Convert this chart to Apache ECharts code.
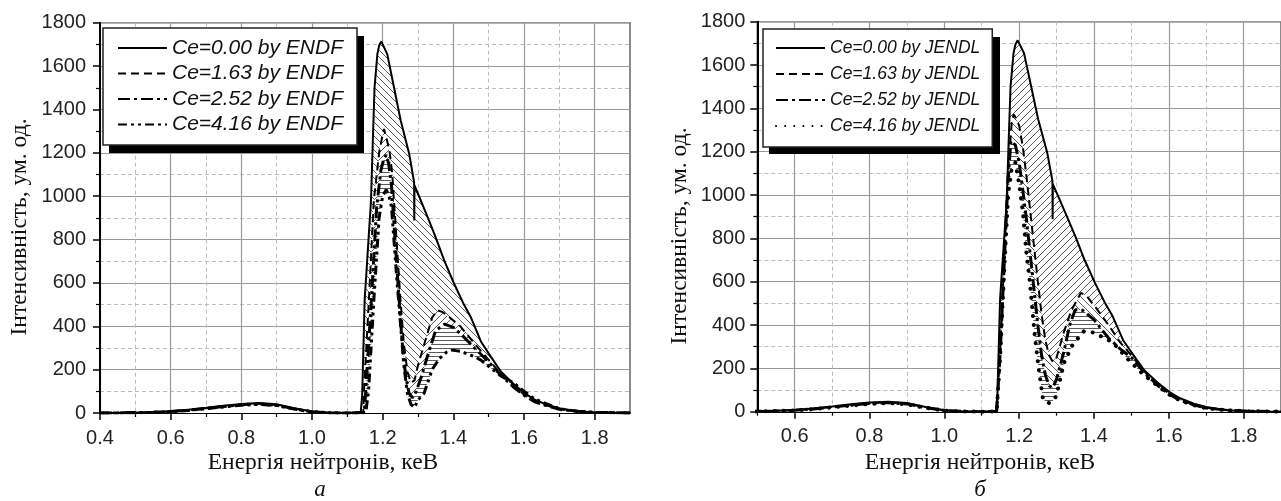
<!DOCTYPE html>
<html><head><meta charset="utf-8">
<script src="https://cdn.jsdelivr.net/npm/echarts@6/dist/echarts.min.js"></script>
<style>html,body{margin:0;padding:0;background:#fff}#c{width:1281px;height:501px}</style>
</head><body><div id="c"></div>
<script>
// ---------- DATA ----------
const lowE = [0.40,0.45,0.50,0.55,0.60,0.65,0.70,0.75,0.80,0.85,0.90,0.95,1.00,1.05,1.10];

// Ce = 0.00 (same reference curve in both panels)
const ce000_E = lowE.concat([1.13,1.138,1.142,1.149,1.158,1.167,1.172,1.177,1.185,1.19,1.196,1.2,1.213,1.232,1.251,1.275,1.289,1.2895,1.290,1.308,1.327,1.35,1.375,1.402,1.43,1.45,1.478,1.506,1.535,1.57,1.601,1.63,1.667,1.7,1.733,1.77,1.8,1.85,1.9]);
const ce000_V = [0,0.5,2,4,8,15,24,34,42,46,40,22,7,1,0].concat([2,5,80,520,750,980,1250,1500,1655,1695,1714,1705,1655,1502,1349,1196,1065,888,1050,980,904,810,700,597,500,440,330,260,190,135,92,62,37,22,12,6,3,1,0]);

// ENDF panel (a)
const endf163_E = lowE.concat([1.145,1.147,1.161,1.175,1.19,1.197,1.204,1.208,1.212,1.22,1.227,1.24,1.25,1.26,1.27,1.28,1.29,1.3,1.32,1.34,1.355,1.37,1.39,1.42,1.46,1.5,1.535,1.57,1.6,1.63,1.667,1.7,1.75,1.8,1.9]);
const endf163_V = [0,0.5,2,4,7,13,22,31,39,43,37,20,6,1,0].concat([2,98,520,980,1200,1260,1310,1280,1260,1200,1105,780,530,320,190,140,150,220,330,440,474,465,440,400,320,245,180,125,85,55,33,18,8,3,0]);
const endf252_E = lowE.concat([1.148,1.152,1.168,1.183,1.195,1.203,1.21,1.217,1.225,1.235,1.245,1.255,1.265,1.275,1.285,1.295,1.31,1.33,1.35,1.375,1.4,1.43,1.46,1.5,1.535,1.57,1.6,1.63,1.667,1.7,1.75,1.8,1.9]);
const endf252_V = [0,0.5,2,3,7,13,21,30,38,42,36,19,6,1,0].concat([2,98,520,950,1120,1170,1190,1150,1050,800,560,330,170,90,70,100,170,280,380,410,395,350,300,235,175,120,82,52,32,17,8,3,0]);
const endf416_E = lowE.concat([1.152,1.16,1.175,1.19,1.2,1.21,1.218,1.225,1.24,1.25,1.26,1.27,1.28,1.29,1.3,1.317,1.34,1.36,1.38,1.397,1.42,1.46,1.478,1.5,1.535,1.572,1.6,1.63,1.668,1.7,1.75,1.8,1.9]);
const endf416_V = [0,0.5,1,3,6,12,20,28,36,40,34,18,5,1,0].concat([2,98,520,900,1000,1030,1000,950,620,420,220,90,40,25,60,90,200,250,280,290,285,260,244,215,170,138,100,65,40,20,8,3,0]);

// JENDL panel (б)
const jendl163_E = lowE.concat([1.14,1.15,1.16,1.17,1.18,1.185,1.19,1.2,1.21,1.22,1.23,1.24,1.25,1.26,1.27,1.28,1.29,1.3,1.32,1.34,1.365,1.38,1.405,1.439,1.47,1.5,1.535,1.57,1.6,1.63,1.667,1.7,1.75,1.8,1.9]);
const jendl163_V = [0,0.5,2,4,7,13,22,31,39,43,37,20,6,1,0].concat([2,300,700,1100,1330,1372,1360,1320,1220,1080,920,760,600,450,330,260,230,250,370,470,548,535,480,400,320,260,185,125,85,55,33,18,8,3,0]);
const jendl252_E = lowE.concat([1.14,1.15,1.16,1.17,1.178,1.19,1.2,1.21,1.22,1.23,1.24,1.25,1.26,1.27,1.28,1.29,1.3,1.32,1.335,1.35,1.37,1.4,1.439,1.47,1.5,1.535,1.57,1.6,1.63,1.667,1.7,1.75,1.8,1.9]);
const jendl252_V = [0,0.5,2,3,7,13,21,30,38,42,36,19,6,1,0].concat([2,290,680,1060,1250,1230,1150,1020,880,720,560,400,260,170,120,110,150,280,400,471,468,425,340,290,250,180,122,82,52,32,17,8,3,0]);
const jendl416_E = lowE.concat([1.14,1.15,1.16,1.171,1.18,1.19,1.2,1.21,1.22,1.228,1.241,1.252,1.264,1.28,1.29,1.299,1.32,1.343,1.373,1.4,1.45,1.492,1.528,1.57,1.6,1.63,1.667,1.7,1.75,1.8,1.9]);
const jendl416_V = [0,0.5,1,3,6,12,20,28,36,40,34,18,5,1,0].concat([2,280,650,1010,1120,1150,1050,920,720,609,364,200,55,40,50,71,226,309,371,365,320,240,178,120,80,52,30,16,7,3,0]);

const namesA = ['Ce=0.00 by ENDF','Ce=1.63 by ENDF','Ce=2.52 by ENDF','Ce=4.16 by ENDF'];
const namesB = ['Ce=0.00 by JENDL','Ce=1.63 by JENDL','Ce=2.52 by JENDL','Ce=4.16 by JENDL'];
const xMajorA = [0.4,0.6,0.8,1.0,1.2,1.4,1.6,1.8];
const xMinorA = [0.5,0.7,0.9,1.1,1.3,1.5,1.7];
const xMajorB = [0.6,0.8,1.0,1.2,1.4,1.6,1.8];
const xMinorB = [0.5,0.7,0.9,1.1,1.3,1.5,1.7];
const yName = 'Інтенсивність, ум. од.';
const xName = 'Енергія нейтронів, кеВ';
const captions = ['а','б'];

// ---------- HATCH PATTERNS ----------
function hatch(kind){
  const s = kind === 'h' ? 4 : 7;
  const c = document.createElement('canvas'); c.width = s; c.height = s;
  const g = c.getContext('2d');
  g.fillStyle = '#fff'; g.fillRect(0,0,s,s);
  g.strokeStyle = '#5a5a5a'; g.lineWidth = 1;
  g.beginPath();
  if (kind === 'h'){ g.moveTo(0,0.5); g.lineTo(s,0.5); }
  else for (let k=-1;k<=1;k++){
    if (kind === 'b'){ g.moveTo(k*s,0); g.lineTo(k*s+s,s); }
    else { g.moveTo(k*s,s); g.lineTo(k*s+s,0); }
  }
  g.stroke();
  return {image:c, repeat:'repeat'};
}

const pair = (E,V)=>E.map((e,i)=>[e,V[i]]);
const chart = echarts.init(document.getElementById('c'), null, {renderer:'canvas'});

const sans = 'Liberation Sans';
function xAxesFor(gi, min, major, minor){
  return [{
    type:'value', gridIndex:gi, min:min, max:1.9, interval:0.1, position:'bottom',
    axisLine:{show:true, onZero:false, lineStyle:{color:'#000', width:2}},
    axisTick:{show:true, customValues:major, length:7, lineStyle:{color:'#000', width:1.5}},
    axisLabel:{customValues:major, formatter:v=>v.toFixed(1), fontSize:20, fontFamily:sans, color:'#222', margin:15},
    splitLine:{show:true, lineStyle:{color:'#9a9a9a', width:1.2}}
  },{
    type:'value', gridIndex:gi, min:min, max:1.9, interval:0.1, position:'bottom',
    axisLine:{show:false},
    axisTick:{show:true, customValues:minor, length:4, lineStyle:{color:'#000', width:1.2}},
    axisLabel:{show:false},
    splitLine:{show:true, lineStyle:{color:'#bcbcbc', width:1, type:[4,3]}}
  }];
}
function yAxisFor(gi, margin){
  return {
    type:'value', gridIndex:gi, min:0, max:1800, interval:200,
    axisLine:{show:true, lineStyle:{color:'#000', width:2}},
    axisTick:{show:true, length:7, lineStyle:{color:'#000', width:1.5}},
    minorTick:{show:true, splitNumber:2, length:4, lineStyle:{color:'#000', width:1.2}},
    axisLabel:{fontSize:20, fontFamily:sans, color:'#222', margin:margin, formatter:v=>String(v)},
    splitLine:{show:true, lineStyle:{color:'#9a9a9a', width:1.2}},
    minorSplitLine:{show:true, lineStyle:{color:'#bcbcbc', width:1, type:[4,3]}}
  };
}
const lineStyles = [
  {color:'#000', width:2, type:'solid'},
  {color:'#000', width:2, type:[8,5]},
  {color:'#000', width:3, type:[12,4,3,4]},
];
function seriesFor(gi, curves, names, pats, last){
  const out = [];
  curves.forEach((c,k)=>{
    out.push({type:'line', name:'_area'+gi+k, xAxisIndex:2*gi, yAxisIndex:gi, data:pair(c[0],c[1]),
      symbol:'none', lineStyle:{width:0, opacity:0}, areaStyle:{color:pats[k], opacity:1},
      z:2, silent:true, animation:false});
  });
  curves.forEach((c,k)=>{
    out.push({type:'line', name:names[k], xAxisIndex:2*gi, yAxisIndex:gi, data:pair(c[0],c[1]),
      symbol:'none', lineStyle:(k<3?lineStyles[k]:last), itemStyle:{color:'#000'},
      z:5, silent:true, animation:false});
  });
  return out;
}

const seriesA = seriesFor(0,
  [[ce000_E,ce000_V],[endf163_E,endf163_V],[endf252_E,endf252_V],[endf416_E,endf416_V]],
  namesA, [hatch('b'),hatch('f'),hatch('h'),'#fff'],
  {color:'#000', width:3, type:[9,4,3,4,3,4]});
const seriesB = seriesFor(1,
  [[ce000_E,ce000_V],[jendl163_E,jendl163_V],[jendl252_E,jendl252_V],[jendl416_E,jendl416_V]],
  namesB, [hatch('f'),hatch('b'),hatch('h'),'#fff'],
  {color:'#000', width:4, type:[0.1,9], cap:'round'});

function legendFor(names, left, top, fs, gap, pad){
  return {
    data:names, orient:'vertical', left:left, top:top, itemWidth:49, itemHeight:14, itemGap:gap,
    padding:pad, backgroundColor:'#fff', borderColor:'#222', borderWidth:1.5, borderRadius:0,
    selectedMode:false, z:10,
    itemStyle:{color:'rgba(0,0,0,0)', borderColor:'rgba(0,0,0,0)', borderWidth:0, opacity:0},
    textStyle:{fontFamily:sans, fontStyle:'italic', fontSize:fs, lineHeight:fs, color:'#111'}
  };
}

const txt = (x,y,text,font,rot)=>({type:'text', x:x, y:y, rotation:rot||0, z:10,
  style:{text:text, font:font, fill:'#111', align:'center', verticalAlign:'middle'}});
const labelFont = '23.5px "Liberation Serif"';

chart.setOption({
  animation:false,
  backgroundColor:'#fff',
  grid:[
    {left:100, top:22.7, width:530, height:390.3, show:true, borderColor:'#666', borderWidth:1.5, backgroundColor:'transparent'},
    {left:757.3, top:21.7, width:530.6, height:390, show:true, borderColor:'#666', borderWidth:1.5, backgroundColor:'transparent'}
  ],
  xAxis: xAxesFor(0, 0.4, xMajorA, xMinorA).concat(xAxesFor(1, 0.5, xMajorB, xMinorB)),
  yAxis: [yAxisFor(0,14), yAxisFor(1,12)],
  legend:[
    legendFor(namesA, 103, 28, 21, 4.5, [9.5,14,10,14]),
    legendFor(namesB, 763, 29, 17.5, 8, [10,12,12,12])
  ],
  series: seriesA.concat(seriesB),
  graphic:[
    // legend drop shadows (Origin style)
    {type:'rect', z:9, shape:{x:109, y:36, width:255, height:117}, style:{fill:'#000'}},
    {type:'rect', z:9, shape:{x:769, y:37, width:231, height:117}, style:{fill:'#000'}},
    txt(323,463,xName,labelFont),
    txt(980,463,xName,labelFont),
    txt(20,227,yName,labelFont,Math.PI/2),
    txt(680,236,yName,labelFont,Math.PI/2),
    txt(320,490,captions[0],'italic 23px "Liberation Serif"'),
    txt(980,490,captions[1],'italic 23px "Liberation Serif"')
  ]
});
</script></body></html>
